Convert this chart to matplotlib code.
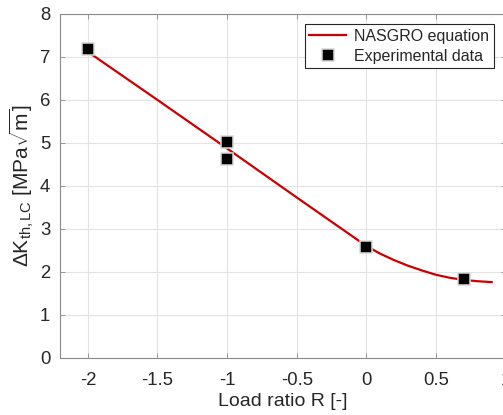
import matplotlib
matplotlib.use("Agg")
import matplotlib.pyplot as plt

plt.rcParams['font.family'] = ['Liberation Sans', 'DejaVu Sans']
plt.rcParams['mathtext.fontset'] = 'custom'
plt.rcParams['mathtext.rm'] = 'Liberation Sans'
plt.rcParams['mathtext.it'] = 'Liberation Sans'
plt.rcParams['mathtext.bf'] = 'Liberation Sans:bold'

# NASGRO equation curve
curve_R = [-2.0, -1.5, -1.0, -0.5, 0.0, 0.1, 0.2, 0.3, 0.4, 0.5, 0.6, 0.7, 0.8, 0.9]
curve_K = [7.12, 6.00, 4.87, 3.73, 2.60, 2.42, 2.27, 2.14, 2.03, 1.93, 1.86, 1.81, 1.78, 1.76]

# Experimental data
exp_R = [-2.0, -1.0, -1.0, 0.0, 0.7]
exp_K = [7.18, 5.02, 4.62, 2.58, 1.83]

xticks = [-2, -1.5, -1, -0.5, 0, 0.5, 1]
xticklabels = ['-2', '-1.5', '-1', '-0.5', '0', '0.5', '1']
yticks = [0, 1, 2, 3, 4, 5, 6, 7, 8]

W, H = 503, 415
fig = plt.figure(figsize=(W / 100, H / 100), dpi=100)
left, right, top, bottom = 60, 505.6, 14, 357.7
ax = fig.add_axes([left / W, (H - bottom) / H, (right - left) / W, (bottom - top) / H])

txt = '#262626'
ax.plot(curve_R, curve_K, color='#cc0000', lw=1.6, label='NASGRO equation', zorder=3)
ax.plot(exp_R, exp_K, ls='none', marker='s', ms=9, mfc='black', mec='#d9d9d9', mew=1.1,
        label='Experimental data', zorder=4)

ax.set_xlim(-2.2, 1.0)
ax.set_ylim(0, 8)
ax.set_xticks(xticks)
ax.set_xticklabels(xticklabels)
ax.set_yticks(yticks)
ax.grid(True, color='#e3e3e3', lw=0.8)
ax.set_axisbelow(True)
for s in ax.spines.values():
    s.set_color('#8a8a8a')
    s.set_linewidth(0.8)
ax.tick_params(direction='in', length=3.5, width=0.6, color='#8a8a8a', labelcolor=txt,
               labelsize=13.3, top=True, right=True)
ax.tick_params(axis='x', pad=10)
ax.tick_params(axis='y', pad=7)

ax.set_xlabel('Load ratio R [-]', fontsize=14, color=txt, labelpad=3)
ax.set_ylabel(r'$\Delta\mathrm{K}_{\mathrm{th,LC}}$ [MPa$\sqrt{\mathrm{m}}$]', fontsize=15,
              color=txt, labelpad=3)

leg = ax.legend(loc='upper right', bbox_to_anchor=(494 / W, 1 - 24 / H),
                bbox_transform=fig.transFigure, borderaxespad=0, fancybox=False,
                framealpha=1, edgecolor='#262626', fontsize=11.5, handlelength=2.3,
                borderpad=0.3, labelspacing=0.3, handletextpad=0.5)
leg.get_frame().set_linewidth(0.8)
for t in leg.get_texts():
    t.set_color(txt)

fig.savefig('out.png', dpi=100)
